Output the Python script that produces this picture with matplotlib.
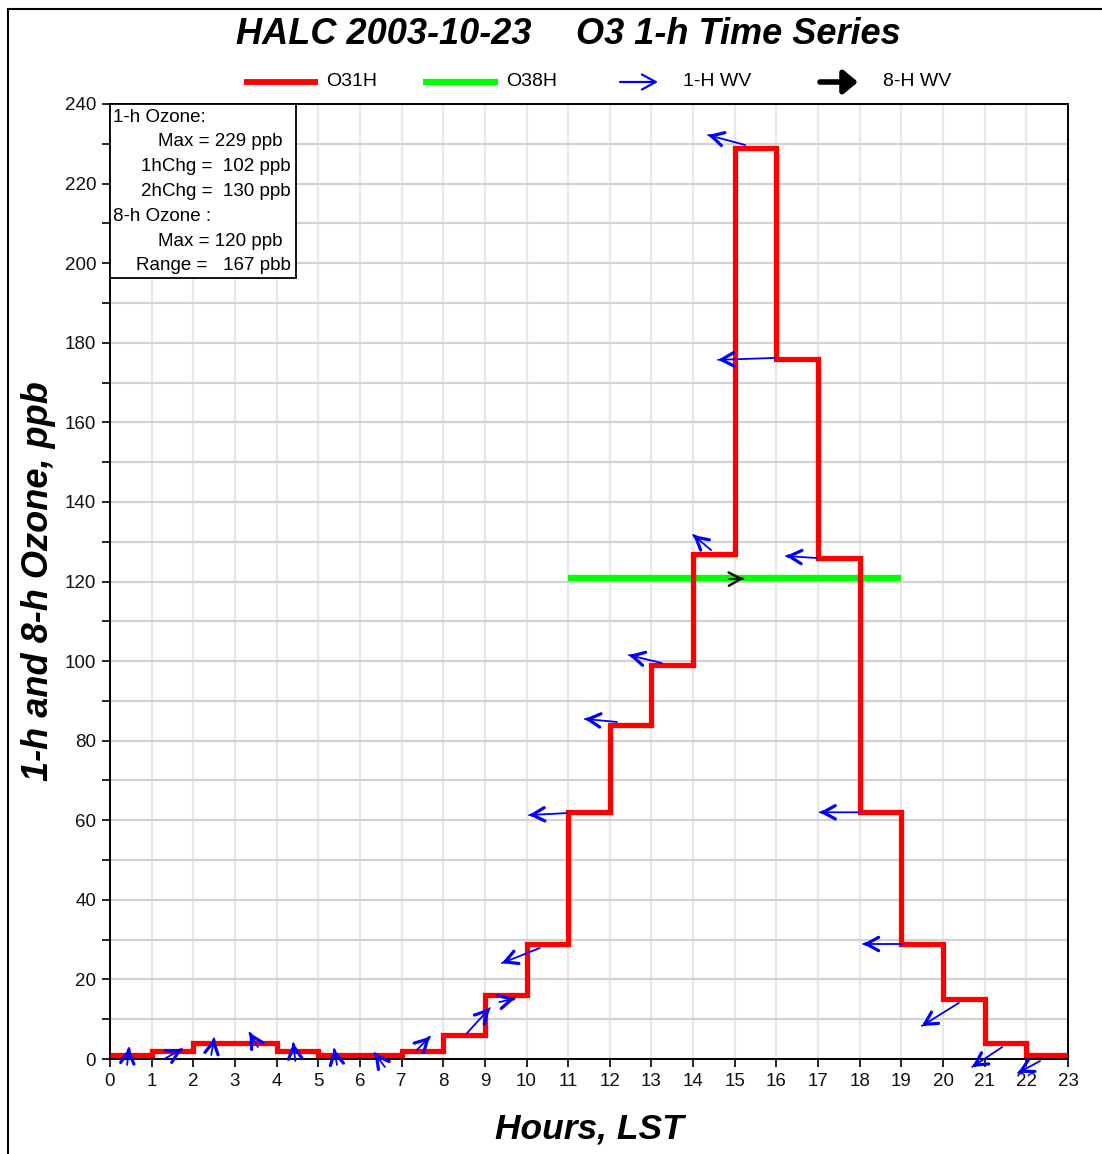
import matplotlib
matplotlib.use('Agg')
import matplotlib.pyplot as plt
from matplotlib.lines import Line2D
from matplotlib.patches import Rectangle, FancyArrowPatch

# ---------------- data ----------------
hour_edges = list(range(24))
o3_1h = [1, 2, 4, 4, 2, 1, 1, 2, 6, 16, 29, 62, 84, 99, 127, 229, 176, 126, 62, 29, 15, 4, 1]
o3_8h_start = 11
o3_8h_end = 19
o3_8h_value = 121

# 1-h wind vectors: tail position (hour, ppb) and components
wv_x = [0.41, 1.30, 2.43, 3.55, 4.45, 5.45, 6.60, 7.37, 8.57, 9.35, 10.32, 10.97, 12.17,
        13.25, 14.43, 15.25, 15.99, 16.97, 18.00, 19.02, 20.38, 21.42, 22.33]
wv_y = [-1.5, 0.0, 1.0, 3.0, -0.5, -1.5, -2.0, 2.3, 6.5, 14.3, 27.9, 61.8, 84.7,
        99.5, 127.9, 229.7, 176.2, 125.9, 62.0, 28.9, 14.1, 3.0, -0.5]
wv_dx = [0.05, 0.43, 0.07, -0.20, -0.05, -0.07, -0.25, 0.31, 0.55, 0.37, -0.91, -0.91, -0.77,
         -0.79, -0.43, -0.89, -1.39, -0.74, -0.96, -0.94, -0.89, -0.72, -0.53]
wv_dy = [4.3, 2.5, 4.2, 3.6, 4.5, 4.0, 3.5, 3.3, 6.3, 0.9, -3.8, -0.5, 0.75,
         2.0, 3.8, 2.5, -0.5, 0.5, 0.0, 0.0, -5.8, -5.0, -3.0]
# 8-h wind vector
wv8_x, wv8_y, wv8_dx, wv8_dy = 14.85, 120.6, 0.36, 0.1

x_ticks = list(range(24))
y_ticks = list(range(0, 241, 20))
y_minor = list(range(10, 240, 20))

title_left = "HALC 2003-10-23"
title_right = "O3 1-h Time Series"
info_lines = ["1-h Ozone:", "Max = 229 ppb", "1hChg =  102 ppb", "2hChg =  130 ppb",
              "8-h Ozone :", "Max = 120 ppb", "Range =   167 pbb"]

# ---------------- figure ----------------
W, H = 1102, 1154
plt.rcParams['font.family'] = ['Liberation Sans', 'DejaVu Sans']
fig = plt.figure(figsize=(W / 100, H / 100), dpi=100)
fig.patch.set_facecolor('white')

def fx(px):
    return px / W

def fy(py):
    return 1 - py / H

ax = fig.add_axes([fx(110), fy(1059), 958 / W, 955 / H])
ax.set_xlim(0, 23)
ax.set_ylim(0, 240)

ax.set_xticks(x_ticks)
ax.set_xticklabels([str(t) for t in x_ticks])
ax.set_yticks(y_ticks)
ax.set_yticks(y_minor, minor=True)
ax.tick_params(axis='both', which='both', direction='out', length=6, width=1.2,
               labelsize=13.5, colors='black', labelcolor='#111111')
ax.tick_params(axis='y', pad=4)
ax.tick_params(axis='x', pad=4)

ax.set_axisbelow(True)
ax.grid(which='both', axis='y', color='#d2d2d2', lw=1.6)
ax.grid(which='major', axis='x', color='#e8e8e8', lw=1.6)
for s in ax.spines.values():
    s.set_linewidth(1.4)
    s.set_color('black')

# 8-h ozone
ax.plot([o3_8h_start, o3_8h_end], [o3_8h_value, o3_8h_value], color='#00ff00', lw=4.6,
        solid_capstyle='butt', zorder=3)
# 1-h ozone step
st = ax.stairs(o3_1h, hour_edges, baseline=None, color='#ff0000', lw=3.8, zorder=4)
st.set_joinstyle('miter')


def vector(x0, y0, dx, dy, color, shaft_lw, head_lw, z):
    # shaft
    ax.annotate('', xy=(x0 + dx, y0 + dy), xytext=(x0, y0), annotation_clip=False,
                arrowprops=dict(arrowstyle='-', color=color, lw=shaft_lw,
                                shrinkA=0, shrinkB=0), zorder=z)
    # bolder head
    ax.annotate('', xy=(x0 + dx, y0 + dy), xytext=(x0 + 0.9 * dx, y0 + 0.9 * dy),
                annotation_clip=False,
                arrowprops=dict(arrowstyle='->,head_length=0.55,head_width=0.3',
                                color=color, lw=head_lw, shrinkA=0, shrinkB=0,
                                mutation_scale=16), zorder=z)


for x0, y0, dx, dy in zip(wv_x, wv_y, wv_dx, wv_dy):
    vector(x0, y0, dx, dy, '#0000ff', 1.3, 2.3, 5)
vector(wv8_x, wv8_y, wv8_dx, wv8_dy, '#111111', 1.3, 1.8, 6)

# labels
ax.set_xlabel("Hours, LST", fontsize=25.5, fontweight='bold', fontstyle='italic', labelpad=16)
ax.set_ylabel("1-h and 8-h Ozone, ppb", fontsize=26, fontweight='bold', fontstyle='italic',
              labelpad=6)

# title
fig.text(fx(236), fy(35), title_left, fontsize=26, fontweight='bold', fontstyle='italic',
         ha='left', va='center')
fig.text(fx(576), fy(35), title_right, fontsize=26, fontweight='bold', fontstyle='italic',
         ha='left', va='center')

# legend
ly = fy(82)
fig.add_artist(Line2D([fx(244), fx(318)], [ly, ly], color='#ff0000', lw=4.2,
                      solid_capstyle='butt'))
fig.text(fx(326), ly, "O31H", fontsize=14, ha='left', va='center')
fig.add_artist(Line2D([fx(423), fx(498)], [ly, ly], color='#00ff00', lw=4.6,
                      solid_capstyle='butt'))
fig.text(fx(506), ly, "O38H", fontsize=14, ha='left', va='center')
fig.add_artist(FancyArrowPatch((fx(620), ly), (fx(658), ly), transform=fig.transFigure,
                               arrowstyle='->,head_length=0.55,head_width=0.3',
                               color='#0000ff', lw=1.6, mutation_scale=18,
                               shrinkA=0, shrinkB=0))
fig.text(fx(683), ly, "1-H WV", fontsize=14, ha='left', va='center')
fig.add_artist(FancyArrowPatch((fx(820), ly), (fx(858), ly), transform=fig.transFigure,
                               arrowstyle='-|>,head_length=0.6,head_width=0.5',
                               color='black', lw=4, mutation_scale=14,
                               shrinkA=0, shrinkB=0))
fig.text(fx(883), ly, "8-H WV", fontsize=14, ha='left', va='center')

# info box
fig.add_artist(Rectangle((fx(110), fy(278)), fx(296) - fx(110), fy(104) - fy(278),
                         transform=fig.transFigure, facecolor='white', edgecolor='black',
                         lw=1.3, zorder=10))
info_pos = [(113, 'left'), (283, 'right'), (291, 'right'), (291, 'right'),
            (113, 'left'), (283, 'right'), (291, 'right')]
for i, (line, (px, ha)) in enumerate(zip(info_lines, info_pos)):
    fig.text(fx(px), fy(117 + i * 24.8), line, fontsize=13.5, ha=ha, va='center', zorder=11)

# outer frame
fig.add_artist(Line2D([fx(8), fx(8)], [fy(1154), fy(9)], color='black', lw=1.5))
fig.add_artist(Line2D([fx(8), fx(1102)], [fy(9), fy(9)], color='black', lw=1.5))

fig.savefig('out.png', dpi=100)
